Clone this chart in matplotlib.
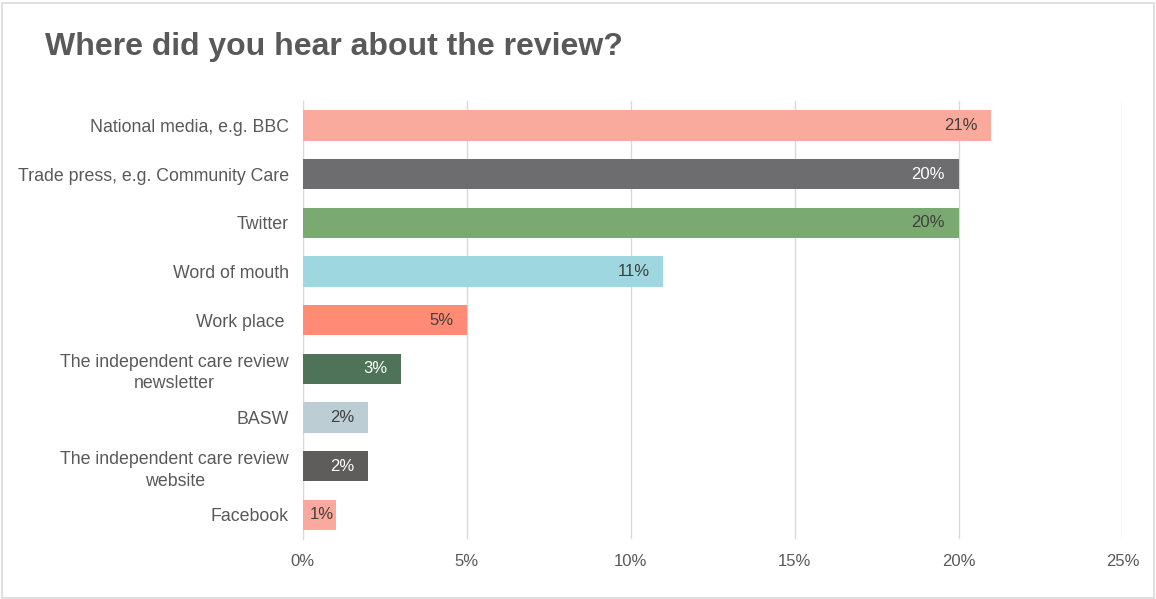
import matplotlib
matplotlib.use("Agg")
import matplotlib.pyplot as plt
from matplotlib.patches import Rectangle
from matplotlib.ticker import FuncFormatter, MultipleLocator

categories = [
    "National media, e.g. BBC",
    "Trade press, e.g. Community Care",
    "Twitter",
    "Word of mouth",
    "Work place ",
    "The independent care review\nnewsletter",
    "BASW",
    "The independent care review\nwebsite",
    "Facebook",
]
values = [21, 20, 20, 11, 5, 3, 2, 2, 1]
bar_colors = ["#FAA99D", "#6D6D6F", "#7AAA71", "#9ED7DF", "#FF8B74",
              "#4F7359", "#BCCED4", "#5E5D5B", "#FBA99E"]
label_colors = ["#404040", "#FFFFFF", "#404040", "#404040", "#404040",
                "#FFFFFF", "#404040", "#FFFFFF", "#404040"]

plt.rcParams["font.family"] = ["Liberation Sans", "DejaVu Sans"]
text_grey = "#595959"

fig = plt.figure(figsize=(11.56, 5.99), dpi=100)
fig.patches.append(Rectangle((0.002, 0.002), 0.996, 0.993, transform=fig.transFigure,
                             fill=False, edgecolor="#D9D9D9", linewidth=1.2))

ax = fig.add_axes([0.262, 0.100, 0.709, 0.731])
ypos = list(range(len(categories)))
ax.barh(ypos, values, height=0.62, color=bar_colors, zorder=2)

# value labels sit just inside the end of each bar; on very short bars
# they are pushed up against the bar end so they stay inside it
label_font = ["Liberation Sans Narrow", "Liberation Sans", "DejaVu Sans"]
for y, v, c in zip(ypos, values, label_colors):
    x = v - 0.42 if v > 1.5 else v - 0.06
    ax.text(x, y, f"{v}%", ha="right", va="center", color=c,
            fontsize=12, family=label_font, zorder=3)

ax.set_yticks(ypos)
ax.set_yticklabels(categories, fontsize=12.8, color=text_grey,
                   linespacing=1.35, multialignment="center")
ax.set_ylim(len(categories) - 0.5, -0.5)
ax.set_xlim(0, 25)
ax.xaxis.set_major_locator(MultipleLocator(5))
ax.xaxis.set_major_formatter(FuncFormatter(lambda x, _: f"{x:.0f}%"))
ax.tick_params(axis="x", labelsize=12, labelcolor=text_grey, length=0, pad=11)
ax.tick_params(axis="y", length=0, pad=10)
ax.grid(axis="x", color="#D9D9D9", linewidth=1.0, zorder=0)
for s in ["top", "right", "bottom"]:
    ax.spines[s].set_visible(False)
ax.spines["left"].set_color("#D9D9D9")
ax.spines["left"].set_zorder(1)

fig.text(0.039, 0.921, "Where did you hear about the review?", fontsize=23,
         fontweight="bold", color=text_grey, ha="left", va="center")

fig.savefig("out.png", dpi=100)
